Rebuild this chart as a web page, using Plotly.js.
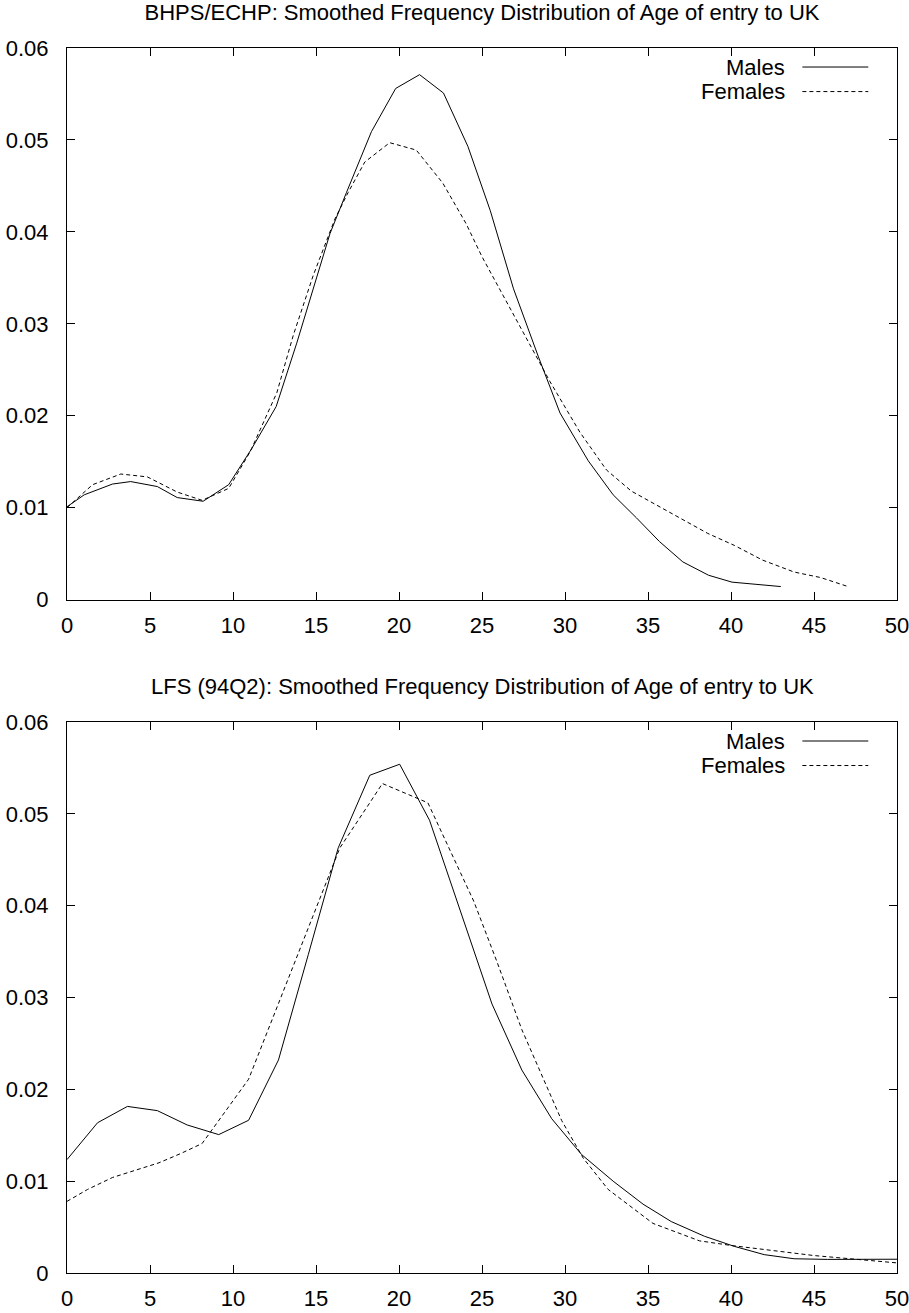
<!DOCTYPE html>
<html>
<head>
<meta charset="utf-8">
<script src="https://cdn.plot.ly/plotly-3.0.1.min.js"></script>
<style>html,body{margin:0;padding:0;background:#fff;}</style>
</head>
<body>
<div id="chart" style="width:909px;height:1313px;"></div>
<script>
// Titles and labels
var titleTop = "BHPS/ECHP: Smoothed Frequency Distribution of Age of entry to UK";
var titleBottom = "LFS (94Q2): Smoothed Frequency Distribution of Age of entry to UK";
var seriesNames = ["Males", "Females"];
var xTicks = [0, 5, 10, 15, 20, 25, 30, 35, 40, 45, 50];
var yTicks = [0, 0.01, 0.02, 0.03, 0.04, 0.05, 0.06];

// BHPS/ECHP – Males
var bhpsMalesAge = [0, 1.04, 2.74, 3.84, 5.44, 6.64, 8.2, 9.74, 11.14, 12.6, 13.84, 14.84, 15.84, 16.84, 18.34, 19.8, 21.24, 22.68, 24.15, 25.5, 26.9, 28.4, 29.7, 31.4, 32.9, 34.3, 35.7, 37.1, 38.65, 40.06, 41.5, 43.0];
var bhpsMalesFreq = [0.0101, 0.0114, 0.01257, 0.01284, 0.0123, 0.0111, 0.0107, 0.0125, 0.01646, 0.0210, 0.0279, 0.0338, 0.0398, 0.0443, 0.0509, 0.0556, 0.0571, 0.0551, 0.0493, 0.0423, 0.0338, 0.0264, 0.0203, 0.0151, 0.0114, 0.0089, 0.0063, 0.0041, 0.00265, 0.0019, 0.00167, 0.00142];

// BHPS/ECHP – Females
var bhpsFemalesAge = [0, 1.54, 3.24, 4.84, 6.64, 8.14, 9.74, 11.04, 12.64, 13.64, 14.84, 16.14, 16.94, 17.94, 19.44, 21.04, 22.64, 24.04, 25.0, 27.1, 29.1, 30.9, 32.5, 34.0, 35.6, 37.1, 38.6, 40.2, 41.9, 43.8, 45.4, 47.0];
var bhpsFemalesFreq = [0.0100, 0.0125, 0.01366, 0.01335, 0.0117, 0.0108, 0.0121, 0.0161, 0.0225, 0.0288, 0.0353, 0.0414, 0.0443, 0.0476, 0.0497, 0.0489, 0.0453, 0.0409, 0.0373, 0.0303, 0.0237, 0.0182, 0.0141, 0.0118, 0.0102, 0.0087, 0.0072, 0.0059, 0.0043, 0.0030, 0.0024, 0.00145];

// LFS (94Q2) – Males
var lfsMalesAge = [0, 1.84, 3.64, 5.44, 7.24, 9.14, 10.94, 12.74, 14.54, 16.34, 18.24, 20.04, 21.84, 25.6, 27.4, 29.2, 31.0, 32.9, 34.7, 36.4, 38.4, 40.2, 42.0, 43.8, 45.8, 48.2, 50.0];
var lfsMalesFreq = [0.01235, 0.01636, 0.01814, 0.01768, 0.01612, 0.01507, 0.01663, 0.0232, 0.0347, 0.0463, 0.0542, 0.0554, 0.0493, 0.0293, 0.0221, 0.0168, 0.0129, 0.0100, 0.0075, 0.0056, 0.0040, 0.0029, 0.0020, 0.00155, 0.00148, 0.00148, 0.00150];

// LFS (94Q2) – Females
var lfsFemalesAge = [0, 1.24, 2.74, 3.84, 5.54, 6.84, 8.14, 10.94, 12.8, 14.64, 16.44, 18.24, 19.0, 21.74, 24.5, 25.9, 27.4, 29.8, 31.1, 32.6, 35.3, 38.1, 40.0, 45.0, 50.0];
var lfsFemalesFreq = [0.0078, 0.0091, 0.0104, 0.0110, 0.0120, 0.0130, 0.0141, 0.0211, 0.0296, 0.0380, 0.0463, 0.0512, 0.0533, 0.0512, 0.0405, 0.0339, 0.0265, 0.0166, 0.0125, 0.0091, 0.0054, 0.0035, 0.0030, 0.0019, 0.0011];

var FONT = "Liberation Sans, Arial, Helvetica, sans-serif";
var FS = 22;
var solid = {color: "#000", width: 1, dash: "solid"};
var dashed = {color: "#000", width: 1, dash: "4px,3px"};

var traces = [
  {x: bhpsMalesAge, y: bhpsMalesFreq, type: "scatter", mode: "lines", name: seriesNames[0], line: solid, xaxis: "x", yaxis: "y"},
  {x: bhpsFemalesAge, y: bhpsFemalesFreq, type: "scatter", mode: "lines", name: seriesNames[1], line: dashed, xaxis: "x", yaxis: "y"},
  {x: lfsMalesAge, y: lfsMalesFreq, type: "scatter", mode: "lines", name: seriesNames[0], line: solid, xaxis: "x2", yaxis: "y2"},
  {x: lfsFemalesAge, y: lfsFemalesFreq, type: "scatter", mode: "lines", name: seriesNames[1], line: dashed, xaxis: "x2", yaxis: "y2"}
];

function xAxis(anchor) {
  return {
    anchor: anchor, domain: [0, 1], range: [0, 50],
    tickvals: xTicks, ticktext: xTicks.map(String),
    ticks: "inside", ticklen: 8, tickwidth: 1, tickcolor: "#000",
    showline: true, linecolor: "#000", linewidth: 1, mirror: "ticks",
    showgrid: false, zeroline: false,
    ticklabelstandoff: 6, ticklabeloverflow: "allow",
    tickfont: {family: FONT, size: FS, color: "#000"}
  };
}
function yAxis(anchor, domain) {
  return {
    anchor: anchor, domain: domain, range: [0, 0.06],
    tickvals: yTicks, ticktext: yTicks.map(String),
    ticks: "inside", ticklen: 8, tickwidth: 1, tickcolor: "#000",
    showline: true, linecolor: "#000", linewidth: 1, mirror: "ticks",
    showgrid: false, zeroline: false,
    ticklabelstandoff: 13, ticklabeloverflow: "allow",
    tickfont: {family: FONT, size: FS, color: "#000"}
  };
}

var legendTextX = 0.868, legendLineX0 = 0.886, legendLineX1 = 0.9654;
var legendY = [0.9655, 0.921];

function legendFor(xr, yr) {
  var ann = [], shp = [];
  [solid, dashed].forEach(function (ln, i) {
    ann.push({xref: xr + " domain", yref: yr + " domain", x: legendTextX, y: legendY[i],
      xanchor: "right", yanchor: "middle", showarrow: false, text: seriesNames[i],
      font: {family: FONT, size: FS, color: "#000"}});
    shp.push({type: "line", xref: xr + " domain", yref: yr + " domain",
      x0: legendLineX0, x1: legendLineX1, y0: legendY[i], y1: legendY[i],
      line: {color: "#000", width: 1, dash: ln.dash}});
  });
  return {ann: ann, shp: shp};
}
var lg1 = legendFor("x", "y"), lg2 = legendFor("x2", "y2");

var layout = {
  width: 909, height: 1313,
  margin: {l: 67, r: 12, t: 48, b: 40},
  paper_bgcolor: "#fff", plot_bgcolor: "#fff",
  showlegend: false,
  font: {family: FONT, size: FS, color: "#000"},
  title: {text: titleTop, x: 0.5, xref: "paper", xanchor: "center", y: 0.9905, yref: "container", yanchor: "middle",
          font: {family: FONT, size: FS, color: "#000"}},
  xaxis: xAxis("y"),
  yaxis: yAxis("x", [0.5497, 1]),
  xaxis2: xAxis("y2"),
  yaxis2: yAxis("x2", [0, 0.4498]),
  annotations: [
    {xref: "paper", yref: "paper", x: 0.5, y: 0.4791, xanchor: "center", yanchor: "middle", showarrow: false,
     text: titleBottom, font: {family: FONT, size: FS, color: "#000"}}
  ].concat(lg1.ann, lg2.ann),
  shapes: lg1.shp.concat(lg2.shp)
};

Plotly.newPlot("chart", traces, layout, {staticPlot: true, displayModeBar: false});
</script>
</body>
</html>
